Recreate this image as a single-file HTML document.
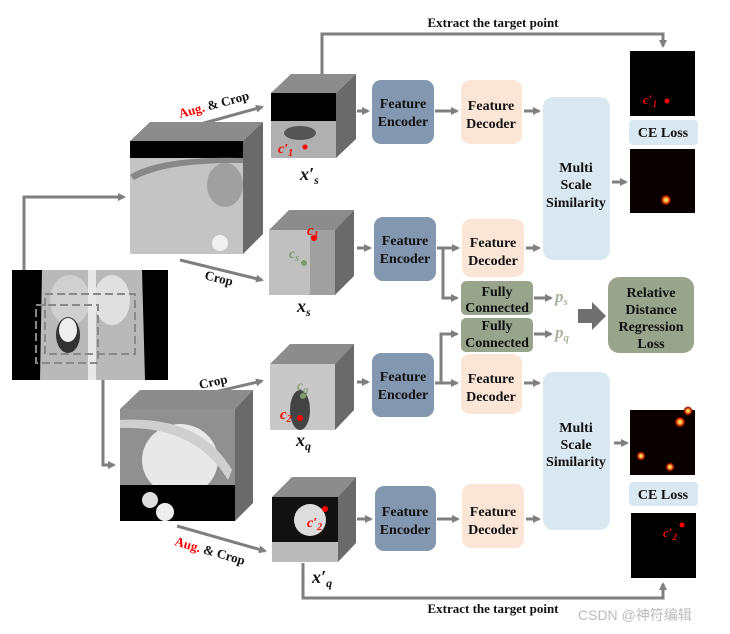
<!DOCTYPE html>
<html><head><meta charset="utf-8"><style>
html,body{margin:0;padding:0;background:#fff;}
svg{display:block;font-family:"Liberation Serif",serif;font-weight:bold;}
</style></head><body>
<svg width="730" height="634" viewBox="0 0 730 634" xmlns="http://www.w3.org/2000/svg">
<defs>
<marker id="a" markerWidth="8" markerHeight="8" refX="6" refY="4" orient="auto" markerUnits="userSpaceOnUse"><path d="M0,0 L8,4 L0,8 z" fill="#7f7f7f"/></marker>
<radialGradient id="g1"><stop offset="0" stop-color="#fffbc0"/><stop offset="0.35" stop-color="#ffa020"/><stop offset="0.7" stop-color="#a01000"/><stop offset="1" stop-color="#300000" stop-opacity="0"/></radialGradient>
</defs>
<g stroke="#7f7f7f" stroke-width="3" fill="none">
<polyline points="322,74 322,34 663,34 663,46" marker-end="url(#a)"/>
<polyline points="303,563 303,598 663,598 663,584" marker-end="url(#a)"/>
<polyline points="24,335 24,197 124,197" marker-end="url(#a)"/>
<polyline points="24,335 35,335"/>
<polyline points="103,380 103,465 114,465" marker-end="url(#a)"/>
<line x1="197" y1="125" x2="262" y2="107" marker-end="url(#a)"/>
<line x1="180" y1="260" x2="262" y2="280" marker-end="url(#a)"/>
<line x1="193" y1="397" x2="262" y2="381" marker-end="url(#a)"/>
<line x1="177" y1="526" x2="265" y2="551" marker-end="url(#a)"/>
<line x1="357" y1="111" x2="368" y2="111" marker-end="url(#a)"/>
<line x1="357" y1="248" x2="370" y2="248" marker-end="url(#a)"/>
<line x1="357" y1="382" x2="368" y2="382" marker-end="url(#a)"/>
<line x1="357" y1="519" x2="371" y2="519" marker-end="url(#a)"/>
<line x1="435" y1="111" x2="457" y2="111" marker-end="url(#a)"/>
<line x1="437" y1="248" x2="458" y2="248" marker-end="url(#a)"/>
<polyline points="443,248 443,298 457,298" marker-end="url(#a)"/>
<line x1="435" y1="383" x2="457" y2="383" marker-end="url(#a)"/>
<polyline points="441,383 441,334 457,334" marker-end="url(#a)"/>
<line x1="437" y1="519" x2="458" y2="519" marker-end="url(#a)"/>
<line x1="524" y1="111" x2="539" y2="111" marker-end="url(#a)"/>
<line x1="526" y1="248" x2="539" y2="248" marker-end="url(#a)"/>
<line x1="524" y1="383" x2="539" y2="383" marker-end="url(#a)"/>
<line x1="526" y1="519" x2="539" y2="519" marker-end="url(#a)"/>
<line x1="612" y1="182" x2="626" y2="182" marker-end="url(#a)"/>
<line x1="614" y1="443" x2="627" y2="443" marker-end="url(#a)"/>
<line x1="534" y1="298" x2="551" y2="298" marker-end="url(#a)"/>
<line x1="534" y1="334" x2="551" y2="334" marker-end="url(#a)"/>
</g>
<polygon points="578,309 592,309 592,302 606,316 592,330 592,323 578,323" fill="#707070"/>

<rect x="12" y="270" width="156" height="110" fill="#000"/>
<path d="M42,270 L142,270 L145,380 L40,380 Z" fill="#b9b9b9"/>
<ellipse cx="70" cy="300" rx="20" ry="25" fill="#d0d0d0"/>
<ellipse cx="112" cy="300" rx="18" ry="25" fill="#e0e0e0"/>
<ellipse cx="68" cy="335" rx="12" ry="18" fill="#333"/>
<ellipse cx="68" cy="330" rx="9" ry="12" fill="#eee"/>
<rect x="88" y="270" width="8" height="110" fill="#e8e8e8"/>
<g stroke="#888" stroke-width="2" fill="none" stroke-dasharray="8,4">
<rect x="36" y="305" width="62" height="58"/><rect x="45" y="294" width="90" height="60"/></g>

<polygon points="130,141 150,122 263,122 243,141" fill="#8c8c8c"/>
<polygon points="243,141 263,122 263,234 243,254" fill="#6a6a6a"/>
<rect x="130" y="141" width="113" height="113" fill="#c4c4c4"/>
<rect x="130" y="141" width="113" height="17" fill="#000"/>
<path d="M130,175 Q160,156 243,158 L243,163 Q165,162 134,180 Z" fill="#888"/>
<ellipse cx="225" cy="185" rx="18" ry="22" fill="#a0a0a0"/>
<circle cx="220" cy="243" r="8" fill="#f0f0f0"/>
<polygon points="120,409 140,390 253,390 235,409" fill="#8c8c8c"/>
<polygon points="235,409 253,390 253,503 235,521" fill="#6a6a6a"/>
<rect x="120" y="409" width="115" height="112" fill="#909090"/>
<ellipse cx="180" cy="460" rx="38" ry="36" fill="#e8e8e8"/>
<rect x="120" y="485" width="115" height="36" fill="#000"/>
<circle cx="150" cy="500" r="8" fill="#ddd"/><circle cx="165" cy="512" r="9" fill="#eee"/>
<path d="M120,420 Q200,415 232,470 L228,480 Q195,425 120,428Z" fill="#cfcfcf"/>

<g>
<polygon points="271,93 291,74 356,74 336,93" fill="#8c8c8c"/><polygon points="336,93 356,74 356,139 336,158" fill="#6a6a6a"/>
<rect x="271" y="93" width="65" height="65" fill="#b0b0b0"/><rect x="271" y="93" width="65" height="28" fill="#000"/>
<ellipse cx="300" cy="133" rx="16" ry="7" fill="#555"/>
<circle cx="305" cy="147" r="2.5" fill="#f00"/>
<text x="278" y="153" fill="#f00" font-style="italic" font-size="14">c′<tspan font-size="10" dy="3">1</tspan></text>
</g>
<g>
<polygon points="269,230 289,210 354,210 335,230" fill="#8c8c8c"/><polygon points="335,230 354,210 354,276 335,295" fill="#6a6a6a"/>
<rect x="269" y="230" width="66" height="65" fill="#c0c0c0"/><rect x="310" y="230" width="25" height="65" fill="#a0a0a0"/>
<circle cx="314" cy="238" r="3" fill="#f00"/><circle cx="304" cy="263" r="3" fill="#7f9a6e"/>
<text x="307" y="235" fill="#f00" font-style="italic" font-size="15">c<tspan font-size="10" dy="3">1</tspan></text>
<text x="289" y="258" fill="#7f9a6e" font-style="italic" font-size="14">c<tspan font-size="10" dy="3">s</tspan></text>
</g>
<g>
<polygon points="270,364 290,344 354,344 335,364" fill="#8c8c8c"/><polygon points="335,364 354,344 354,410 335,430" fill="#6a6a6a"/>
<rect x="270" y="364" width="65" height="66" fill="#c8c8c8"/><ellipse cx="300" cy="410" rx="10" ry="20" fill="#444"/>
<circle cx="300" cy="418" r="3" fill="#f00"/><circle cx="303" cy="396" r="3" fill="#7f9a6e"/>
<text x="280" y="419" fill="#f00" font-style="italic" font-size="15">c<tspan font-size="10" dy="3">2</tspan></text>
<text x="297" y="390" fill="#8aa07a" font-style="italic" font-size="14">c<tspan font-size="10" dy="3">q</tspan></text>
</g>
<g>
<polygon points="272,497 292,477 356,477 338,497" fill="#8c8c8c"/><polygon points="338,497 356,477 356,543 338,562" fill="#6a6a6a"/>
<rect x="272" y="497" width="66" height="65" fill="#111"/><ellipse cx="310" cy="520" rx="16" ry="16" fill="#ddd"/><rect x="272" y="542" width="66" height="20" fill="#bbb"/>
<circle cx="325" cy="509" r="3" fill="#f00"/>
<text x="307" y="527" fill="#f00" font-style="italic" font-size="14">c′<tspan font-size="10" dy="3">2</tspan></text>
</g>
<g font-style="italic" font-size="18" fill="#111">
<text x="300" y="180">x′<tspan font-size="12" dy="4">s</tspan></text>
<text x="297" y="312">x<tspan font-size="12" dy="4">s</tspan></text>
<text x="296" y="446">x<tspan font-size="12" dy="4">q</tspan></text>
<text x="312" y="583">x′<tspan font-size="12" dy="4">q</tspan></text>
</g>
<g font-size="13" fill="#111">
<text transform="translate(180,118) rotate(-15)"><tspan fill="#f00">Aug.</tspan> &amp; Crop</text>
<text transform="translate(204,279) rotate(14)">Crop</text>
<text transform="translate(200,389) rotate(-12)">Crop</text>
<text transform="translate(174,545) rotate(16)"><tspan fill="#f00">Aug.</tspan> &amp; Crop</text>
<text x="493" y="27" text-anchor="middle">Extract the target point</text>
<text x="493" y="613" text-anchor="middle">Extract the target point</text>
</g>

<g font-size="14" fill="#111" text-anchor="middle">
<rect x="372" y="80" width="62" height="64" rx="9" fill="#8497b0"/><text x="403" y="108">Feature</text><text x="403" y="126">Encoder</text>
<rect x="374" y="217" width="62" height="64" rx="9" fill="#8497b0"/><text x="405" y="245">Feature</text><text x="405" y="263">Encoder</text>
<rect x="372" y="353" width="62" height="64" rx="9" fill="#8497b0"/><text x="403" y="381">Feature</text><text x="403" y="399">Encoder</text>
<rect x="375" y="486" width="61" height="65" rx="9" fill="#8497b0"/><text x="405" y="516">Feature</text><text x="405" y="534">Encoder</text>
<rect x="461" y="80" width="61" height="64" rx="9" fill="#fbe5d6"/><text x="491" y="110">Feature</text><text x="491" y="128">Decoder</text>
<rect x="462" y="219" width="62" height="58" rx="9" fill="#fbe5d6"/><text x="493" y="247">Feature</text><text x="493" y="265">Decoder</text>
<rect x="461" y="354" width="61" height="60" rx="9" fill="#fbe5d6"/><text x="491" y="383">Feature</text><text x="491" y="401">Decoder</text>
<rect x="462" y="484" width="62" height="64" rx="9" fill="#fbe5d6"/><text x="493" y="516">Feature</text><text x="493" y="534">Decoder</text>
<rect x="461" y="281" width="72" height="34" rx="5" fill="#98a58c"/><text x="497" y="296">Fully</text><text x="497" y="312">Connected</text>
<rect x="461" y="318" width="72" height="34" rx="5" fill="#98a58c"/><text x="497" y="330">Fully</text><text x="497" y="347">Connected</text>
<rect x="543" y="97" width="67" height="163" rx="10" fill="#dae8f1"/><text x="576" y="172">Multi</text><text x="576" y="189">Scale</text><text x="576" y="207">Similarity</text>
<rect x="543" y="372" width="67" height="158" rx="10" fill="#dae8f1"/><text x="576" y="432">Multi</text><text x="576" y="449">Scale</text><text x="576" y="466">Similarity</text>
<rect x="608" y="277" width="86" height="76" rx="11" fill="#98a58c"/><text x="651" y="297">Relative</text><text x="651" y="314">Distance</text><text x="651" y="331">Regression</text><text x="651" y="348">Loss</text>
<rect x="629" y="120" width="69" height="25" rx="4" fill="#dae8f1"/><text x="663" y="137">CE Loss</text>
<rect x="629" y="482" width="69" height="24" rx="4" fill="#dae8f1"/><text x="663" y="499">CE Loss</text>
</g>
<g font-style="italic" font-size="17" fill="#a9b59c" font-weight="bold">
<text x="555" y="302">p<tspan font-size="11" dy="3">s</tspan></text>
<text x="555" y="338">p<tspan font-size="11" dy="3">q</tspan></text>
</g>
<rect x="630" y="51" width="65" height="65" fill="#000"/>
<circle cx="667" cy="101" r="2.5" fill="#f00"/>
<text x="643" y="104" fill="#f00" font-style="italic" font-size="13">c′<tspan font-size="9" dy="3">1</tspan></text>
<rect x="630" y="149" width="65" height="64" fill="#0a0000"/>
<circle cx="666" cy="200" r="6" fill="url(#g1)"/>
<rect x="630" y="410" width="65" height="65" fill="#0a0000"/>
<circle cx="680" cy="422" r="6" fill="url(#g1)"/><circle cx="688" cy="411" r="5" fill="url(#g1)"/>
<circle cx="641" cy="456" r="5" fill="url(#g1)"/><circle cx="670" cy="467" r="5" fill="url(#g1)"/>
<rect x="631" y="513" width="65" height="65" fill="#000"/>
<circle cx="682" cy="525" r="2.5" fill="#f00"/>
<text x="663" y="537" fill="#f00" font-style="italic" font-size="13">c′<tspan font-size="9" dy="3">2</tspan></text>
<text x="578" y="620" fill="#bbb" font-size="14" font-weight="normal" font-family="Liberation Sans,'Noto Sans CJK SC',sans-serif">CSDN @神符编辑</text>
</svg>
</body></html>
